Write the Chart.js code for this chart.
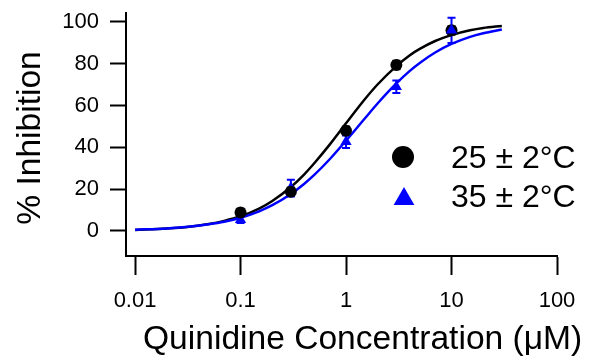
<!DOCTYPE html>
<html>
<head>
<meta charset="utf-8">
<script src="https://cdn.jsdelivr.net/npm/chart.js@4/dist/chart.umd.min.js"></script>
<style>
    body { margin: 0; background: #fff; }
    #wrap { width: 590px; height: 358px; }
</style>
</head>
<body>
<div id="wrap"><canvas id="chart-1" width="590" height="358"></canvas></div>
<script>
// measured points (mean ± error)
const concentrations = [0.1, 0.3, 1, 3, 10];
const inhib25 = [8.8, 18.8, 48, 79.4, 96];
const err25 = [1.8, 2, 2, 2, 2];
const inhib35 = [5.3, 20.5, 42.7, 69, 96];
const err35 = [1.5, 4, 3, 3, 6];

// fitted curves
const curveConc = [0.01, 0.02, 0.03, 0.05, 0.07, 0.1, 0.15, 0.2, 0.3, 0.4, 0.5, 0.7, 1, 1.5, 2, 3, 4, 5, 7, 10, 15, 20, 30];
const fit25 = [0.5, 1.2, 1.8, 3.3, 4.8, 7.0, 10.7, 14.3, 21.0, 27.0, 32.4, 41.3, 51.5, 62.9, 70.2, 78.9, 84.0, 87.1, 90.9, 93.7, 96.0, 97.1, 98.1];
const fit35 = [0.6, 1.2, 1.9, 3.2, 4.4, 6.3, 9.4, 12.3, 17.7, 22.5, 26.8, 34.3, 43.2, 53.7, 61.1, 70.6, 76.5, 80.4, 85.4, 89.5, 92.9, 94.6, 96.4];

const xTicks = [0.01, 0.1, 1, 10, 100];
const yTicks = [0, 20, 40, 60, 80, 100];
const seriesLabels = ['25 ± 2°C', '35 ± 2°C'];
const xTitle = 'Quinidine Concentration (μM)';
const yTitle = '% Inhibition';

const BLUE = '#0000ff';
const FONT = '"Liberation Sans", Arial, sans-serif';

function toPoints(xs, ys) {
    return xs.map(function (x, i) { return { x: x, y: ys[i] }; });
}

// error bars, axis titles and the legend box
const annotations = {
    id: 'annotations',
    beforeDatasetsDraw(chart) {
        const ctx = chart.ctx;
        const xs = chart.scales.x;
        const ys = chart.scales.y;
        const groups = [
            { vals: inhib25, errs: err25, color: '#000' },
            { vals: inhib35, errs: err35, color: BLUE }
        ];
        ctx.save();
        ctx.lineWidth = 2;
        groups.forEach(function (g) {
            ctx.strokeStyle = g.color;
            concentrations.forEach(function (c, i) {
                const px = xs.getPixelForValue(c);
                const top = ys.getPixelForValue(g.vals[i] + g.errs[i]);
                const bot = ys.getPixelForValue(g.vals[i] - g.errs[i]);
                ctx.beginPath();
                ctx.moveTo(px, top); ctx.lineTo(px, bot);
                ctx.moveTo(px - 4, top); ctx.lineTo(px + 4, top);
                ctx.moveTo(px - 4, bot); ctx.lineTo(px + 4, bot);
                ctx.stroke();
            });
        });
        ctx.restore();
    },
    afterDraw(chart) {
        const ctx = chart.ctx;
        ctx.save();
        ctx.fillStyle = '#000';
        // x title
        ctx.font = '33.6px ' + FONT;
        ctx.textAlign = 'left';
        ctx.textBaseline = 'alphabetic';
        ctx.fillText(xTitle, 143, 349);
        // y title
        ctx.save();
        ctx.translate(31, 138);
        ctx.rotate(-Math.PI / 2);
        ctx.textAlign = 'center';
        ctx.textBaseline = 'middle';
        ctx.font = '33.6px ' + FONT;
        ctx.fillText(yTitle, 0, 0);
        ctx.restore();
        // legend
        ctx.font = '32px ' + FONT;
        ctx.textAlign = 'left';
        ctx.textBaseline = 'alphabetic';
        ctx.fillStyle = '#000';
        ctx.strokeStyle = '#000';
        Chart.helpers.drawPoint(ctx, { pointStyle: 'circle', radius: 11, rotation: 0, borderWidth: 0 }, 403, 157);
        ctx.fillText(seriesLabels[0], 451, 168);
        ctx.fillStyle = BLUE;
        ctx.strokeStyle = BLUE;
        Chart.helpers.drawPoint(ctx, { pointStyle: 'triangle', radius: 12, rotation: 0, borderWidth: 0 }, 404, 199);
        ctx.fillStyle = '#000';
        ctx.fillText(seriesLabels[1], 451, 207);
        ctx.restore();
    }
};

const data = {
    datasets: [
        {
            // the 10 µM triangle sits over the black circle in the original
            label: seriesLabels[1] + ' top',
            data: toPoints(concentrations.slice(4), inhib35.slice(4)),
            pointStyle: 'triangle',
            pointRadius: 6.5,
            backgroundColor: BLUE,
            borderColor: BLUE,
            borderWidth: 0,
            order: -1
        },
        {
            label: seriesLabels[0],
            data: toPoints(concentrations, inhib25),
            pointStyle: 'circle',
            pointRadius: 6,
            backgroundColor: '#000',
            borderColor: '#000',
            borderWidth: 0,
            order: 0
        },
        {
            label: seriesLabels[1],
            data: toPoints(concentrations, inhib35),
            pointStyle: 'triangle',
            pointRadius: 6.5,
            backgroundColor: BLUE,
            borderColor: BLUE,
            borderWidth: 0,
            order: 1
        },
        {
            label: 'fit 35',
            data: toPoints(curveConc, fit35),
            showLine: true,
            pointRadius: 0,
            borderColor: BLUE,
            borderWidth: 2.5,
            cubicInterpolationMode: 'monotone',
            order: 2
        },
        {
            label: 'fit 25',
            data: toPoints(curveConc, fit25),
            showLine: true,
            pointRadius: 0,
            borderColor: '#000',
            borderWidth: 2.5,
            cubicInterpolationMode: 'monotone',
            order: 3
        }
    ]
};

const options = {
    responsive: false,
    devicePixelRatio: 1,
    animation: false,
    layout: { padding: { top: 13, right: 33, left: 0, bottom: 0 } },
    plugins: {
        legend: { display: false },
        tooltip: { enabled: false }
    },
    scales: {
        x: {
            type: 'logarithmic',
            min: 0.00821,
            max: 100,
            afterBuildTicks: function (scale) {
                scale.ticks = xTicks.map(function (v) { return { value: v }; });
            },
            afterFit: function (scale) {
                scale.height = 102;
                scale.paddingLeft = 0;
                scale.paddingRight = 0;
            },
            grid: { drawOnChartArea: false, drawTicks: true, tickLength: 19, tickWidth: 2, tickColor: '#000' },
            border: { display: true, color: '#000', width: 2 },
            ticks: {
                autoSkip: false,
                maxRotation: 0,
                padding: 13,
                color: '#000',
                font: { family: FONT, size: 22 },
                callback: function (value) { return String(value); }
            }
        },
        y: {
            type: 'linear',
            min: -12,
            max: 104.3,
            afterBuildTicks: function (scale) {
                scale.ticks = yTicks.map(function (v) { return { value: v }; });
            },
            afterFit: function (scale) {
                scale.width = 126;
                scale.paddingTop = 0;
                scale.paddingBottom = 0;
            },
            grid: { drawOnChartArea: false, drawTicks: true, tickLength: 16, tickWidth: 2, tickColor: '#000' },
            border: { display: true, color: '#000', width: 2 },
            ticks: {
                padding: 11,
                color: '#000',
                font: { family: FONT, size: 22 },
                callback: function (value) { return String(value); }
            }
        }
    }
};

var ctx = document.getElementById('chart-1').getContext('2d');
chart = new Chart(ctx, {
    type: 'scatter',
    data: data,
    options: options,
    plugins: [annotations]
});
</script>
</body>
</html>
